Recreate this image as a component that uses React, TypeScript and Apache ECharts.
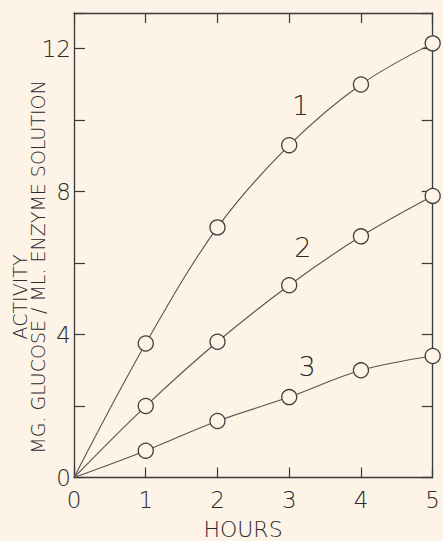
import React, { useEffect, useRef } from "react";
import * as echarts from "echarts";

const hours = [0, 1, 2, 3, 4, 5];
const curve1 = [0, 3.75, 7.0, 9.3, 11.0, 12.15];
const curve2 = [0, 2.0, 3.8, 5.38, 6.75, 7.88];
const curve3 = [0, 0.75, 1.58, 2.25, 3.0, 3.4];
const curveNames = ["1", "2", "3"];
const curveLabelPos = [
  [3.16, 10.4],
  [3.19, 6.43],
  [3.25, 3.1],
];
const yTickLabels = [0, 4, 8, 12];

const BG = "#fdf3e6";
const INK = "#3a3a3a";
const TXT = "#2a2a2a";
const FONT = "DejaVu Sans, Liberation Sans, sans-serif";

export default function App() {
  const ref = useRef<HTMLDivElement>(null);
  useEffect(() => {
    document.body.style.margin = "0";
    document.body.style.background = BG;
    const chart = echarts.init(ref.current!, null, { renderer: "svg" });
    const allCurves = [curve1, curve2, curve3];
    const series = allCurves.map((vals, i) => ({
      type: "line",
      name: curveNames[i],
      smooth: 0.35,
      showSymbol: true,
      symbol: "circle",
      symbolSize: 15,
      data: vals.map((v, j) =>
        j === 0 ? { value: [hours[j], v], symbol: "none" } : { value: [hours[j], v] }
      ),
      lineStyle: { color: "#555555", width: 1.1 },
      itemStyle: { color: BG, borderColor: "#3f3f3f", borderWidth: 1.3 },
      z: 3,
      markPoint: {
        symbol: "circle",
        symbolSize: 0,
        silent: true,
        label: {
          show: true,
          position: "inside",
          formatter: curveNames[i],
          fontSize: 27,
          fontFamily: FONT,
          fontWeight: 200,
          color: TXT,
        },
        data: [{ coord: curveLabelPos[i] }],
      },
    }));
    const axisCommon = {
      splitLine: { show: false },
      axisLine: { show: true, onZero: false, lineStyle: { color: INK, width: 1.3 } },
    };
    chart.setOption({
      animation: false,
      backgroundColor: BG,
      grid: { left: 74, right: 10, top: 13, bottom: 63.5, containLabel: false },
      xAxis: [
        {
          type: "value",
          min: 0,
          max: 5,
          interval: 1,
          position: "bottom",
          ...axisCommon,
          axisTick: { show: true, inside: true, length: 10, lineStyle: { color: INK, width: 1.2 } },
          axisLabel: {
            show: true,
            margin: 11,
            fontSize: 23,
            fontFamily: FONT,
            fontWeight: 200,
            color: TXT,
          },
        },
        {
          type: "value",
          min: 0,
          max: 5,
          interval: 1,
          position: "top",
          ...axisCommon,
          axisTick: { show: true, inside: true, length: 10, lineStyle: { color: INK, width: 1.2 } },
          axisLabel: { show: false },
        },
      ],
      yAxis: [
        {
          type: "value",
          min: 0,
          max: 13,
          interval: 2,
          position: "left",
          ...axisCommon,
          axisTick: { show: true, inside: true, length: 11, lineStyle: { color: INK, width: 1.2 } },
          axisLabel: {
            show: true,
            margin: 3,
            fontSize: 23,
            fontFamily: FONT,
            fontWeight: 200,
            color: TXT,
            formatter: (v: number) => (yTickLabels.includes(v) ? String(v) : ""),
          },
        },
        {
          type: "value",
          min: 0,
          max: 13,
          interval: 2,
          position: "right",
          ...axisCommon,
          axisTick: { show: true, inside: true, length: 11, lineStyle: { color: INK, width: 1.2 } },
          axisLabel: { show: false },
        },
      ],
      graphic: [
        {
          type: "text",
          x: 20,
          y: 297,
          rotation: Math.PI / 2,
          style: {
            text: "ACTIVITY",
            fontSize: 19,
            fontFamily: FONT,
            fontWeight: 200,
            fill: TXT,
            align: "center",
            verticalAlign: "middle",
          },
        },
        {
          type: "text",
          x: 38,
          y: 267,
          rotation: Math.PI / 2,
          style: {
            text: "MG. GLUCOSE / ML. ENZYME SOLUTION",
            fontSize: 19,
            fontFamily: FONT,
            fontWeight: 200,
            fill: TXT,
            align: "center",
            verticalAlign: "middle",
          },
        },
        {
          type: "text",
          x: 243,
          y: 529,
          style: {
            text: "HOURS",
            fontSize: 22,
            fontFamily: FONT,
            fontWeight: 200,
            fill: TXT,
            align: "center",
            verticalAlign: "middle",
          },
        },
      ],
      series,
    });
    return () => chart.dispose();
  }, []);
  return <div ref={ref} style={{ width: 443, height: 541 }} />;
}
